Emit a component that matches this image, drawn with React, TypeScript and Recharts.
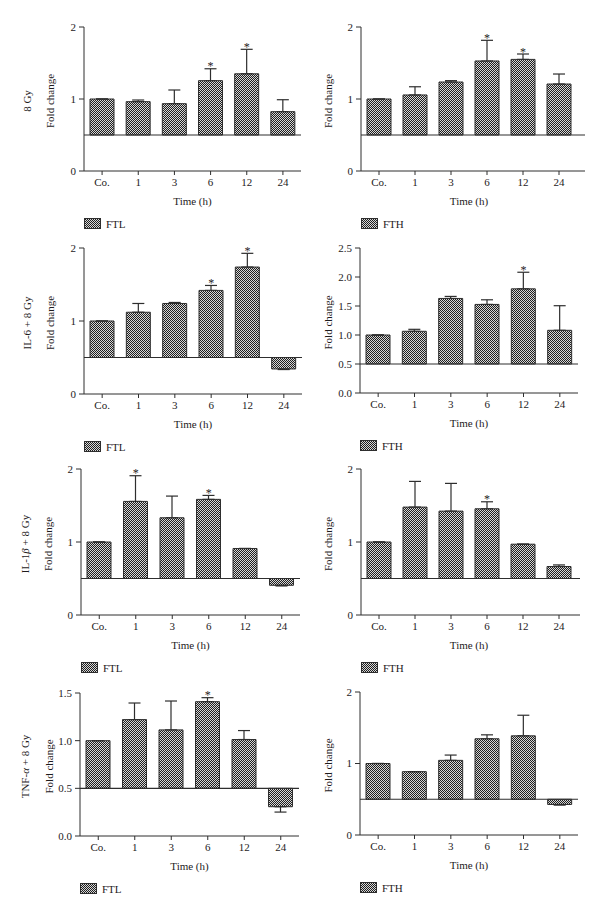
import React from 'react';
import { ComposedChart, Bar, XAxis, YAxis, ReferenceLine, ErrorBar, Scatter } from 'recharts';

// ---------- data ----------
const times = ['Co.', '1', '3', '6', '12', '24'];

const ftl8Gy = [1.0, 0.963, 0.935, 1.255, 1.35, 0.824];
const ftl8GyErr = [0, 0.023, 0.19, 0.165, 0.34, 0.166];
const ftl8GyStar = ['6', '12'];

const fth8Gy = [1.0, 1.056, 1.236, 1.528, 1.55, 1.208];
const fth8GyErr = [0, 0.114, 0.019, 0.287, 0.075, 0.139];
const fth8GyStar = ['6', '12'];

const ftlIl6 = [1.0, 1.12, 1.24, 1.419, 1.739, 0.343];
const ftlIl6Err = [0, 0.12, 0.014, 0.068, 0.188, 0.008];
const ftlIl6Star = ['6', '12'];

const fthIl6 = [1.0, 1.064, 1.63, 1.527, 1.796, 1.081];
const fthIl6Err = [0, 0.034, 0.035, 0.08, 0.286, 0.424];
const fthIl6Star = ['12'];

const ftlIl1b = [1.0, 1.556, 1.332, 1.584, 0.911, 0.407];
const ftlIl1bErr = [0, 0.352, 0.297, 0.054, 0, 0.009];
const ftlIl1bStar = ['1', '6'];

const fthIl1b = [1.0, 1.478, 1.423, 1.455, 0.97, 0.664];
const fthIl1bErr = [0, 0.352, 0.38, 0.096, 0, 0.022];
const fthIl1bStar = ['6'];

const ftlTnf = [1.0, 1.221, 1.113, 1.409, 1.012, 0.307];
const ftlTnfErr = [0, 0.174, 0.303, 0.042, 0.094, 0.056];
const ftlTnfStar = ['6'];

const fthTnf = [1.0, 0.886, 1.044, 1.346, 1.387, 0.427];
const fthTnfErr = [0, 0, 0.074, 0.055, 0.288, 0.009];
const fthTnfStar: string[] = [];

const ticksTo2 = [0, 1, 2];
const ticksTo25 = [0, 0.5, 1, 1.5, 2, 2.5];
const ticksTo15 = [0, 0.5, 1, 1.5];

// ---------- styles ----------
const FONT = '"Liberation Serif", "Times New Roman", serif';
const INK = '#1e1b1c';
const LINE = '#2e2e2e';

type PanelSpec = {
  id: string;
  values: number[];
  errs: number[];
  stars: string[];
  legend: string;
  title?: React.ReactNode;
  domain: [number, number];
  ticks: number[];
  decimals: number;
  panelLeft: number;
  axisX: number;
  plotTop: number;
  plotBottom: number;
  plotRight: number;
  padRight: number;
  titleX: number;
  foldX: number;
};

const panels: PanelSpec[] = [
  { id: 'a', values: ftl8Gy, errs: ftl8GyErr, stars: ftl8GyStar, legend: 'FTL', title: '8 Gy',
    domain: [0, 2], ticks: ticksTo2, decimals: 0,
    panelLeft: 0, axisX: 84, plotTop: 27, plotBottom: 171, plotRight: 301, padRight: 0, titleX: 27, foldX: 50 },
  { id: 'b', values: fth8Gy, errs: fth8GyErr, stars: fth8GyStar, legend: 'FTH',
    domain: [0, 2], ticks: ticksTo2, decimals: 0,
    panelLeft: 300, axisX: 361, plotTop: 27, plotBottom: 171, plotRight: 585, padRight: 8, titleX: 0, foldX: 328 },
  { id: 'c', values: ftlIl6, errs: ftlIl6Err, stars: ftlIl6Star, legend: 'FTL', title: 'IL-6 + 8 Gy',
    domain: [0, 2], ticks: ticksTo2, decimals: 0,
    panelLeft: 0, axisX: 84, plotTop: 248, plotBottom: 394, plotRight: 302, padRight: 0, titleX: 27, foldX: 50 },
  { id: 'd', values: fthIl6, errs: fthIl6Err, stars: fthIl6Star, legend: 'FTH',
    domain: [0, 2.5], ticks: ticksTo25, decimals: 1,
    panelLeft: 300, axisX: 360, plotTop: 248, plotBottom: 393, plotRight: 578, padRight: 0, titleX: 0, foldX: 328 },
  { id: 'e', values: ftlIl1b, errs: ftlIl1bErr, stars: ftlIl1bStar, legend: 'FTL',
    title: (<>IL-1<tspan fontStyle="italic">β</tspan> + 8 Gy</>),
    domain: [0, 2], ticks: ticksTo2, decimals: 0,
    panelLeft: 0, axisX: 81, plotTop: 469, plotBottom: 615, plotRight: 300, padRight: 0, titleX: 25, foldX: 48 },
  { id: 'f', values: fthIl1b, errs: fthIl1bErr, stars: fthIl1bStar, legend: 'FTH',
    domain: [0, 2], ticks: ticksTo2, decimals: 0,
    panelLeft: 300, axisX: 361, plotTop: 469, plotBottom: 615, plotRight: 580, padRight: 3, titleX: 0, foldX: 328 },
  { id: 'g', values: ftlTnf, errs: ftlTnfErr, stars: ftlTnfStar, legend: 'FTL',
    title: (<>TNF-<tspan fontStyle="italic">α</tspan> + 8 Gy</>),
    domain: [0, 1.5], ticks: ticksTo15, decimals: 1,
    panelLeft: 0, axisX: 80, plotTop: 693, plotBottom: 836, plotRight: 299, padRight: 0, titleX: 25, foldX: 49 },
  { id: 'h', values: fthTnf, errs: fthTnfErr, stars: fthTnfStar, legend: 'FTH',
    domain: [0, 2], ticks: ticksTo2, decimals: 0,
    panelLeft: 300, axisX: 360, plotTop: 692, plotBottom: 835, plotRight: 578, padRight: 0, titleX: 0, foldX: 328 },
];

const renderStar = (props: any) => {
  const { cx, cy, payload } = props;
  if (!payload || !payload.star || cx == null || cy == null) return <g />;
  return (
    <text x={cx} y={cy + 1.5} textAnchor="middle" fontSize={12} fontFamily={FONT} fill={INK}>
      *
    </text>
  );
};

function Pattern({ id }: { id: string }) {
  return (
    <pattern id={id} width={2} height={2} patternUnits="userSpaceOnUse">
      <rect width={2} height={2} fill="#d6d6d6" />
      <rect width={1} height={1} fill="#1f1f1f" />
      <rect x={1} y={1} width={1} height={1} fill="#1f1f1f" />
    </pattern>
  );
}

function Panel({ p }: { p: PanelSpec }) {
  const data = times.map((t, i) => {
    const v = p.values[i];
    const e = p.errs[i];
    const isStar = p.stars.includes(t);
    return {
      t,
      range: [0.5, v],
      err: v >= 0.5 ? [0, e] : [e, 0],
      star: isStar,
      starY: isStar ? v + e : null,
    };
  });
  const marginRight = 4;
  const width = p.plotRight - p.panelLeft + marginRight;
  const xAxisH = 22;
  const height = 10 + (p.plotBottom - p.plotTop) + xAxisH;
  const pid = `chk-${p.id}`;
  const tickStyle = { fill: INK, fontSize: 11, fontFamily: FONT };
  return (
    <div style={{ position: 'absolute', left: p.panelLeft, top: p.plotTop - 10 }}>
      <ComposedChart
        width={width}
        height={height}
        data={data}
        margin={{ top: 10, right: marginRight, left: 0, bottom: 0 }}
      >
        <defs>
          <Pattern id={pid} />
        </defs>
        <XAxis
          dataKey="t"
          type="category"
          height={xAxisH}
          tickSize={4}
          tickMargin={3}
          stroke={LINE}
          tick={tickStyle}
          padding={{ left: 0, right: p.padRight }}
          interval={0}
        />
        <YAxis
          type="number"
          domain={p.domain}
          ticks={p.ticks}
          width={p.axisX - p.panelLeft}
          tickSize={5}
          tickMargin={3}
          stroke={LINE}
          tick={tickStyle}
          interval={0}
          tickFormatter={(v: number) => v.toFixed(p.decimals)}
        />
        <Bar
          dataKey="range"
          barSize={24}
          fill={`url(#${pid})`}
          stroke={LINE}
          strokeWidth={1}
          isAnimationActive={false}
        >
          <ErrorBar dataKey="err" direction="y" width={6} stroke={LINE} strokeWidth={1.2} isAnimationActive={false} />
        </Bar>
        <ReferenceLine y={0.5} stroke={LINE} strokeWidth={1.2} />
        <Scatter dataKey="starY" shape={renderStar} isAnimationActive={false} />
      </ComposedChart>
    </div>
  );
}

function Labels() {
  return (
    <svg
      width={600}
      height={917}
      style={{ position: 'absolute', left: 0, top: 0, pointerEvents: 'none' }}
    >
      <defs>
        <Pattern id="chk-legend" />
      </defs>
      {panels.map((p) => {
        const midY = (p.plotTop + p.plotBottom) / 2 + 2;
        const timeX = (p.axisX + p.plotRight - p.padRight) / 2;
        return (
          <g key={p.id} fontFamily={FONT} fontSize={11} fill={INK}>
            <text
              transform={`translate(${p.foldX},${midY}) rotate(-90)`}
              textAnchor="middle"
              dominantBaseline="central"
            >
              Fold change
            </text>
            {p.title ? (
              <text
                transform={`translate(${p.titleX},${midY}) rotate(-90)`}
                textAnchor="middle"
                dominantBaseline="central"
              >
                {p.title}
              </text>
            ) : null}
            <text x={timeX} y={p.plotBottom + 30} textAnchor="middle" dominantBaseline="central">
              Time (h)
            </text>
            <rect
              x={p.axisX + 0.5}
              y={p.plotBottom + 47.5}
              width={16}
              height={10}
              fill="url(#chk-legend)"
              stroke={LINE}
              strokeWidth={1}
            />
            <text x={p.axisX + 22} y={p.plotBottom + 52.5} dominantBaseline="central">
              {p.legend}
            </text>
          </g>
        );
      })}
    </svg>
  );
}

export default function App() {
  return (
    <div
      style={{
        position: 'absolute',
        left: 0,
        top: 0,
        width: 600,
        height: 917,
        background: '#ffffff',
        overflow: 'hidden',
      }}
    >
      {panels.map((p) => (
        <Panel key={p.id} p={p} />
      ))}
      <Labels />
    </div>
  );
}
